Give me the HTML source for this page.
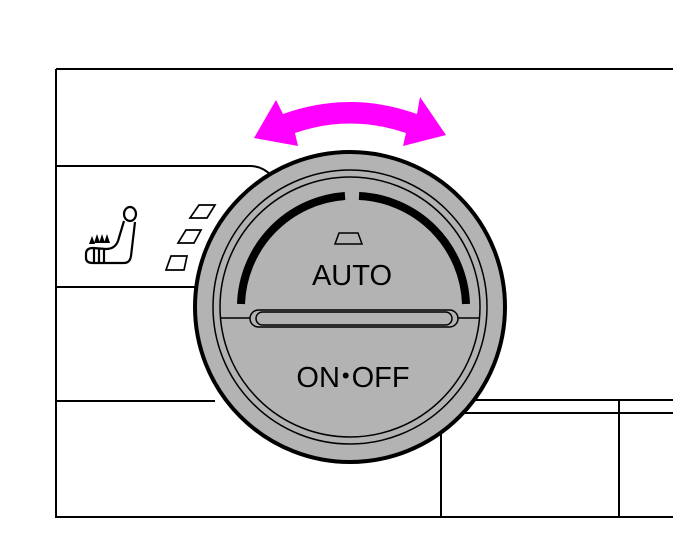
<!DOCTYPE html>
<html><head><style>body{margin:0;background:#fff}svg{display:block}</style></head><body>
<svg width="686" height="556" viewBox="0 0 686 556" xmlns="http://www.w3.org/2000/svg">
<g stroke="#000" stroke-width="2" fill="none">
<path d="M56 69H673M56 69V517H673"/>
<path d="M56 166H250Q262 166 272 176"/>
<path d="M56 287H205M56 401H215"/>
<path d="M470 400H673M460 413H673M441 430V517M619 400V517"/>
</g>
<!-- pink arrow -->
<path fill="#ff00ff" d="M283 114Q350 90 417 114L420 97L446 135L403 146L406 133Q350 114 295 133L298 146L254 138L276 100Z"/>
<!-- seat icon -->
<g stroke="#000" stroke-width="2.2" fill="none" stroke-linejoin="round">
<ellipse cx="130" cy="214" rx="6" ry="7"/>
<path d="M124 221L118 241Q115 249 106 249L93 248Q86 248 86 254V258Q86 263 93 263H124Q130 263 131 256L135 222"/>
<path d="M94 248V262M99 248V262M104 248V262"/>
</g>
<g fill="#000"><path d="M92 236l-3 8h6zM97 234l-3 9h6zM102 234l-3 9h6zM107 234l-3 9h6z"/></g>
<g stroke="#000" stroke-width="1.7" fill="none">
<path d="M199 205H215L207 218H190Z"/><path d="M186 230H201L194 243H178Z"/><path d="M171 256H187L184 270H166Z"/>
</g>
<!-- dial -->
<circle cx="350" cy="307" r="155" fill="#b3b3b3" stroke="#000" stroke-width="4"/>
<circle cx="350" cy="307" r="137" fill="none" stroke="#000" stroke-width="1.5"/>
<circle cx="350" cy="307" r="130" fill="none" stroke="#000" stroke-width="1.5"/>
<path d="M241 304A112 112 0 0 1 345 196" fill="none" stroke="#000" stroke-width="8"/>
<path d="M359 196A112 112 0 0 1 466 304" fill="none" stroke="#000" stroke-width="8"/>
<line x1="221" y1="318" x2="479" y2="318" stroke="#000" stroke-width="1.5"/>
<rect x="250" y="310" width="208" height="17" rx="8.5" fill="#b3b3b3" stroke="#000" stroke-width="1.5"/>
<rect x="256" y="312" width="196" height="13" rx="6.5" fill="none" stroke="#000" stroke-width="1.5"/>
<path d="M339 233H358L362 244H335Z" fill="none" stroke="#000" stroke-width="1.5"/>
<text x="352" y="285" font-family="Liberation Sans, sans-serif" font-size="29" text-anchor="middle" fill="#000">AUTO</text>
<text x="353" y="387" font-family="Liberation Sans, sans-serif" font-size="29" text-anchor="middle" fill="#000">ON<tspan font-size="22" dy="-4" dx="2">•</tspan><tspan dy="4" dx="2">OFF</tspan></text>
</svg>
</body></html>
